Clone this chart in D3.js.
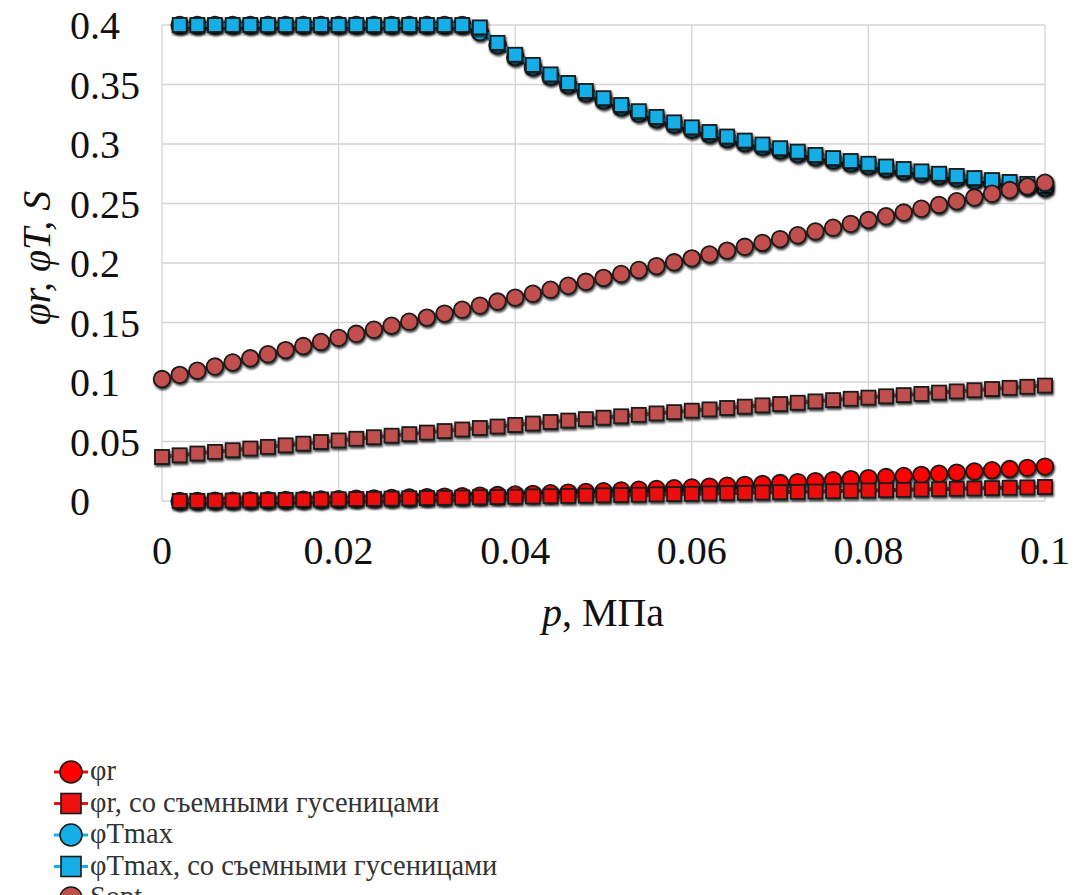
<!DOCTYPE html>
<html><head><meta charset="utf-8">
<script src="https://cdn.jsdelivr.net/npm/d3@7"></script>
<style>body{margin:0;background:#fff}svg{display:block}text{font-family:"Liberation Serif","Times New Roman",serif}</style>
</head><body>
<svg id="c" width="1077" height="895"></svg>
<script>
// x values (p, MPa)
const pFull = [0,0.002,0.004,0.006,0.008,0.01,0.012,0.014,0.016,0.018,0.02,0.022,0.024,0.026,0.028,0.03,0.032,0.034,0.036,0.038,0.04,0.042,0.044,0.046,0.048,0.05,0.052,0.054,0.056,0.058,0.06,0.062,0.064,0.066,0.068,0.07,0.072,0.074,0.076,0.078,0.08,0.082,0.084,0.086,0.088,0.09,0.092,0.094,0.096,0.098,0.1];
const pFrom2 = pFull.slice(1);

const phiR = [0.00003,0.00009,0.00018,0.0003,0.00045,0.00063,0.00083,0.00106,0.0013,0.00158,0.00187,0.00219,0.00253,0.00289,0.00327,0.00368,0.0041,0.00454,0.005,0.00549,0.006,0.00652,0.00707,0.00763,0.00822,0.00882,0.00944,0.01008,0.01074,0.01142,0.01212,0.01284,0.01357,0.01433,0.0151,0.0159,0.0167,0.01753,0.01838,0.01925,0.02013,0.02103,0.02195,0.02289,0.02385,0.02483,0.02582,0.02683,0.02786,0.02891];
const phiRTracks = [0.00007,0.00018,0.0003,0.00044,0.00059,0.00075,0.00092,0.00109,0.00127,0.00146,0.00165,0.00185,0.00205,0.00225,0.00247,0.00268,0.0029,0.00313,0.00335,0.00359,0.00382,0.00406,0.0043,0.00454,0.0048,0.00504,0.00529,0.00555,0.0058,0.00607,0.00633,0.0066,0.00686,0.00713,0.00741,0.00768,0.00796,0.00824,0.00852,0.0088,0.00909,0.00937,0.00967,0.00996,0.01025,0.01054,0.01084,0.01114,0.01144,0.0118];
const phiTmax = [0.4,0.4,0.4,0.4,0.4,0.4,0.4,0.4,0.4,0.4,0.4,0.4,0.4,0.4,0.4,0.4,0.4,0.394,0.383,0.373,0.3645,0.3565,0.3493,0.3426,0.3365,0.3308,0.3256,0.3208,0.3162,0.312,0.3081,0.3043,0.3009,0.2976,0.2945,0.2916,0.2888,0.2862,0.2837,0.2814,0.2791,0.277,0.275,0.273,0.2712,0.2694,0.2677,0.2661,0.2645,0.263];
const phiTmaxTracks = [0.4,0.4,0.4,0.4,0.4,0.4,0.4,0.4,0.4,0.4,0.4,0.4,0.4,0.4,0.4,0.4,0.4,0.398,0.385,0.375,0.3665,0.3585,0.3513,0.3446,0.3385,0.3328,0.3276,0.3228,0.3182,0.314,0.3101,0.3063,0.3029,0.2996,0.2965,0.2936,0.2908,0.2882,0.2857,0.2834,0.2811,0.279,0.277,0.275,0.2732,0.2714,0.2697,0.2681,0.2665,0.265];
const sOpt = [0.1025,0.106,0.1095,0.113,0.1164,0.1199,0.1234,0.1268,0.1302,0.1337,0.1371,0.1405,0.1439,0.1473,0.1507,0.1541,0.1575,0.1608,0.1642,0.1676,0.1709,0.1742,0.1776,0.1809,0.1842,0.1875,0.1908,0.1941,0.1974,0.2006,0.2039,0.2072,0.2104,0.2136,0.2169,0.2201,0.2233,0.2265,0.2297,0.2329,0.2361,0.2393,0.2424,0.2456,0.2488,0.2519,0.255,0.2582,0.2613,0.2644,0.2675];
const sOptTracks = [0.037,0.0384,0.0399,0.0413,0.0427,0.0441,0.0455,0.0468,0.0482,0.0496,0.0509,0.0523,0.0536,0.0549,0.0562,0.0575,0.0588,0.0601,0.0614,0.0626,0.0639,0.0651,0.0664,0.0676,0.0688,0.07,0.0712,0.0724,0.0736,0.0747,0.0759,0.077,0.0782,0.0793,0.0804,0.0815,0.0826,0.0837,0.0848,0.0859,0.0869,0.088,0.089,0.09,0.0911,0.0921,0.0931,0.0941,0.0951,0.096,0.097];

const xTicks = [0,0.02,0.04,0.06,0.08,0.1];
const xTickLabels = ["0","0.02","0.04","0.06","0.08","0.1"];
const yTicks = [0,0.05,0.1,0.15,0.2,0.25,0.3,0.35,0.4];
const yTickLabels = ["0","0.05","0.1","0.15","0.2","0.25","0.3","0.35","0.4"];

const seriesNames = ["φr","φr, со съемными гусеницами","φTmax","φTmax, со съемными гусеницами","Sopt","Sopt, со съемными гусеницами"];
const seriesColors = ["#ff0000","#ee1111","#16aee6","#16aee6","#c0504d","#c0504d"];
const seriesShapes = ["circle","square","circle","square","circle","square"];

const series = [
  {x:pFrom2, y:phiR},
  {x:pFrom2, y:phiRTracks},
  {x:pFrom2, y:phiTmax},
  {x:pFrom2, y:phiTmaxTracks},
  {x:pFull, y:sOpt},
  {x:pFull, y:sOptTracks}
];

const svg = d3.select("#c");
const defs = svg.append("defs");
const f = defs.append("filter").attr("id","sh").attr("x","-50%").attr("y","-50%").attr("width","200%").attr("height","200%");
f.append("feDropShadow").attr("dx",1).attr("dy",2).attr("stdDeviation",0.8).attr("flood-color","#000").attr("flood-opacity",0.75);

const L=162, R=1045, T=25, B=501;
const x = d3.scaleLinear().domain([0,0.1]).range([L,R]);
const y = d3.scaleLinear().domain([0,0.4]).range([B,T]);

// grid
const g = svg.append("g");
g.selectAll("line.v").data(xTicks).join("line")
  .attr("x1",d=>x(d)).attr("x2",d=>x(d)).attr("y1",T).attr("y2",B)
  .attr("stroke","#d4d4d4").attr("stroke-width",1.3);
g.selectAll("line.h").data(yTicks).join("line")
  .attr("x1",L).attr("x2",R).attr("y1",d=>y(d)).attr("y2",d=>y(d))
  .attr("stroke","#d4d4d4").attr("stroke-width",1.3);

// tick labels
svg.append("g").selectAll("text").data(yTicks).join("text")
  .attr("x",70).attr("y",d=>y(d)+14)
  .attr("font-size",40).attr("fill","#111")
  .text((d,i)=>yTickLabels[i]);
svg.append("g").selectAll("text").data(xTicks).join("text")
  .attr("x",d=>x(d)).attr("y",564).attr("text-anchor","middle")
  .attr("font-size",40).attr("fill","#111")
  .text((d,i)=>xTickLabels[i]);

// axis titles
const xt = svg.append("text").attr("x",603).attr("y",626).attr("text-anchor","middle")
  .attr("font-size",40).attr("fill","#111");
xt.append("tspan").attr("font-style","italic").text("p");
xt.append("tspan").text(", МПа");
svg.append("text").attr("transform","translate(50,258) rotate(-90)").attr("text-anchor","middle")
  .attr("font-size",40).attr("font-style","italic").attr("fill","#111")
  .text("φr, φT, S");

// series
const line = d3.line().x(d=>x(d[0])).y(d=>y(d[1]));
series.forEach((s,i)=>{
  const pts = s.x.map((xv,j)=>[xv,s.y[j]]);
  const sg = svg.append("g");
  sg.append("path").datum(pts).attr("d",line).attr("fill","none")
    .attr("stroke",seriesColors[i]).attr("stroke-width",4);
  const mg = sg.append("g").attr("filter","url(#sh)");
  if(seriesShapes[i]==="circle"){
    mg.selectAll("circle").data(pts).join("circle")
      .attr("cx",d=>x(d[0])).attr("cy",d=>y(d[1])).attr("r",8.3)
      .attr("fill",seriesColors[i]).attr("stroke","#1a1a1a").attr("stroke-width",1.8);
  } else {
    mg.selectAll("rect").data(pts).join("rect")
      .attr("x",d=>x(d[0])-7).attr("y",d=>y(d[1])-7).attr("width",14).attr("height",14)
      .attr("fill",seriesColors[i]).attr("stroke","#1a1a1a").attr("stroke-width",1.8);
  }
});

// legend (bottom entries fall off the picture, as in the original)
const lg = svg.append("g");
seriesNames.slice(0,5).forEach((name,i)=>{
  const cy = 772 + i*31.5;
  const it = lg.append("g");
  it.append("line").attr("x1",54).attr("x2",88).attr("y1",cy).attr("y2",cy)
    .attr("stroke",seriesColors[i]).attr("stroke-width",3);
  if(seriesShapes[i]==="circle"){
    it.append("circle").attr("cx",71).attr("cy",cy).attr("r",11)
      .attr("fill",seriesColors[i]).attr("stroke","#1a1a1a").attr("stroke-width",1.6);
  } else {
    it.append("rect").attr("x",61).attr("y",cy-10).attr("width",20).attr("height",20)
      .attr("fill",seriesColors[i]).attr("stroke","#1a1a1a").attr("stroke-width",1.6);
  }
  it.append("text").attr("x",90).attr("y",cy+8)
    .attr("font-size",28.5).attr("fill","#333").text(name);
});
</script>
</body></html>
